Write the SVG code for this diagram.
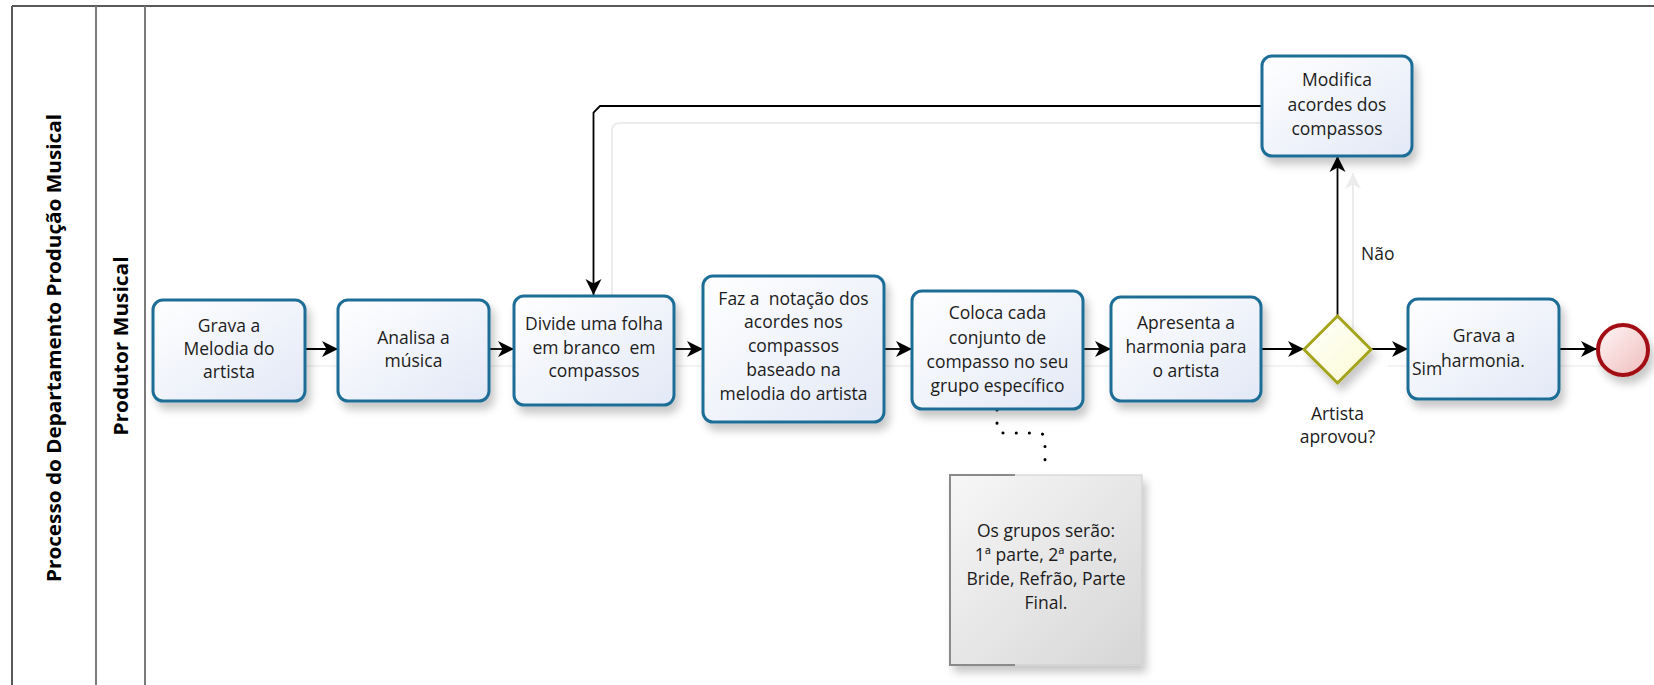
<svg xmlns="http://www.w3.org/2000/svg" width="1654" height="685" viewBox="0 0 1654 685">
<style>
.lane{fill:none;stroke:#7a7a7a;stroke-width:2}
.outer{fill:none;stroke:#5a5a5a;stroke-width:2}
.task{fill:url(#gTask);stroke:#1f6e97;stroke-width:3;filter:url(#sh)}
.t{font-family:"Open Sans","Liberation Sans",sans-serif;font-size:17.5px;fill:#1c1c1c;text-anchor:middle}
.tl{font-family:"Open Sans","Liberation Sans",sans-serif;font-size:17.5px;fill:#1c1c1c}
.hdr{font-family:"Open Sans","Liberation Sans",sans-serif;font-size:20px;font-weight:bold;fill:#000;text-anchor:middle}
.flow{fill:none;stroke:#000;stroke-width:1.8;marker-end:url(#arr)}
.ghost{fill:none;stroke:#ececec;stroke-width:2}
.ghostl{fill:none;stroke:#f3f3f3;stroke-width:2}
.assoc{fill:none;stroke:#000;stroke-width:3;stroke-linecap:round;stroke-dasharray:0.1 13}
</style>
<defs>
<linearGradient id="gTask" x1="0" y1="0" x2="1" y2="1">
<stop offset="0" stop-color="#ffffff"/>
<stop offset="1" stop-color="#e2e8f6"/>
</linearGradient>
<linearGradient id="gGate" x1="0" y1="0" x2="1" y2="1">
<stop offset="0" stop-color="#ffffff"/>
<stop offset="1" stop-color="#fbfbd2"/>
</linearGradient>
<linearGradient id="gEnd" x1="0" y1="0" x2="1" y2="1">
<stop offset="0" stop-color="#fff6f6"/>
<stop offset="1" stop-color="#efbcbc"/>
</linearGradient>
<linearGradient id="gNote" x1="0" y1="0" x2="1" y2="1">
<stop offset="0" stop-color="#f7f7f7"/>
<stop offset="1" stop-color="#d6d6d6"/>
</linearGradient>
<filter id="sh" x="-20%" y="-20%" width="150%" height="160%">
<feDropShadow dx="4" dy="7" stdDeviation="4" flood-color="#000" flood-opacity="0.22"/>
</filter>
<marker id="arr" markerWidth="17" markerHeight="17" refX="16" refY="8.5" orient="auto" markerUnits="userSpaceOnUse">
<path d="M0,0.5 L16,8.5 L0,16.5 L4.5,8.5 z" fill="#000"/>
</marker>
<marker id="arrg" markerWidth="17" markerHeight="17" refX="16" refY="8.5" orient="auto" markerUnits="userSpaceOnUse">
<path d="M0,0.5 L16,8.5 L0,16.5 L4.5,8.5 z" fill="#ececec"/>
</marker>
</defs>
<rect width="1654" height="685" fill="#fff"/>

<g id="pool">
<line class="outer" x1="12" y1="6" x2="1654" y2="6"/>
<line class="outer" x1="12" y1="6" x2="12" y2="685"/>
<line class="lane" x1="96" y1="6" x2="96" y2="685"/>
<line class="lane" x1="145" y1="6" x2="145" y2="685"/>
<text class="hdr" transform="translate(61,348) rotate(-90)" textLength="468" lengthAdjust="spacingAndGlyphs">Processo do Departamento Produção Musical</text>
</g>
<g id="lane">
<text class="hdr" transform="translate(128,346) rotate(-90)" textLength="179" lengthAdjust="spacingAndGlyphs">Produtor Musical</text>
</g>

<g id="connectors">
<g id="ghosts">
<path class="ghost" d="M1262,123 L620,123 Q612,123 612,131 L612,296"/>
<path class="ghost" d="M1353,331 L1353,173" marker-end="url(#arrg)"/>
<line class="ghostl" x1="305" y1="366" x2="338" y2="366"/>
<line class="ghostl" x1="489" y1="366" x2="514" y2="366"/>
<line class="ghostl" x1="674" y1="366" x2="703" y2="366"/>
<line class="ghostl" x1="884" y1="366" x2="912" y2="366"/>
<line class="ghostl" x1="1083" y1="366" x2="1111" y2="366"/>
<line class="ghostl" x1="1261" y1="366" x2="1318" y2="366"/>
<line class="ghostl" x1="1388" y1="366" x2="1408" y2="366"/>
<line class="ghostl" x1="1559" y1="366" x2="1610" y2="366"/>
</g>
<line class="flow" x1="305" y1="349" x2="338" y2="349"/>
<line class="flow" x1="489" y1="349" x2="514" y2="349"/>
<line class="flow" x1="674" y1="349" x2="703" y2="349"/>
<line class="flow" x1="884" y1="349" x2="912" y2="349"/>
<line class="flow" x1="1083" y1="349" x2="1111" y2="349"/>
<line class="flow" x1="1261" y1="349" x2="1304" y2="349"/>
<line class="flow" x1="1371" y1="349" x2="1408" y2="349"/>
<line class="flow" x1="1559" y1="349" x2="1597" y2="349"/>
<line class="flow" x1="1337.5" y1="316" x2="1337.5" y2="156"/>
<path class="flow" d="M1262,106 L600,106 L593.5,112.5 L593.5,295"/>
<path class="assoc" d="M997,410 L997,426 Q997,433 1004,433 L1038,433 Q1045,433 1045,440 L1045,468"/>
</g>

<g id="task-grava-melodia">
<rect class="task" x="153" y="300" width="152" height="101" rx="10"/>
<text class="t" x="229" y="332">Grava a</text>
<text class="t" x="229" y="355">Melodia do</text>
<text class="t" x="229" y="378">artista</text>
</g>
<g id="task-analisa">
<rect class="task" x="338" y="300" width="151" height="101" rx="10"/>
<text class="t" x="413.5" y="344">Analisa a</text>
<text class="t" x="413.5" y="367">música</text>
</g>
<g id="task-divide">
<rect class="task" x="514" y="296" width="160" height="109" rx="10"/>
<text class="t" x="594" y="330">Divide uma folha</text>
<text class="t" x="594" y="354" xml:space="preserve">em branco  em</text>
<text class="t" x="594" y="377">compassos</text>
</g>
<g id="task-faz">
<rect class="task" x="703" y="276" width="181" height="146" rx="10"/>
<text class="t" x="793.5" y="304.5" xml:space="preserve">Faz a  notação dos</text>
<text class="t" x="793.5" y="328">acordes nos</text>
<text class="t" x="793.5" y="352">compassos</text>
<text class="t" x="793.5" y="376">baseado na</text>
<text class="t" x="793.5" y="400">melodia do artista</text>
</g>
<g id="task-coloca">
<rect class="task" x="912" y="291" width="171" height="118" rx="10"/>
<text class="t" x="997.5" y="319">Coloca cada</text>
<text class="t" x="997.5" y="343.5">conjunto de</text>
<text class="t" x="997.5" y="368">compasso no seu</text>
<text class="t" x="997.5" y="392">grupo específico</text>
</g>
<g id="task-apresenta">
<rect class="task" x="1111" y="297" width="150" height="104" rx="10"/>
<text class="t" x="1186" y="329">Apresenta a</text>
<text class="t" x="1186" y="353">harmonia para</text>
<text class="t" x="1186" y="377">o artista</text>
</g>
<g id="gateway-aprovou">
<path d="M1337.5,316 L1371,349.5 L1337.5,383 L1304,349.5 z" fill="url(#gGate)" stroke="#a4a41e" stroke-width="3" filter="url(#sh)"/>
<text class="t" x="1337.5" y="419.5">Artista</text>
<text class="t" x="1337.5" y="442.5">aprovou?</text>
<text class="tl" x="1361" y="260">Não</text>
</g>
<g id="task-modifica">
<rect class="task" x="1262" y="56" width="150" height="100" rx="10"/>
<text class="t" x="1337" y="86">Modifica</text>
<text class="t" x="1337" y="111">acordes dos</text>
<text class="t" x="1337" y="135">compassos</text>
</g>
<g id="task-grava-harmonia">
<rect class="task" x="1408" y="299" width="151" height="100" rx="10"/>
<text class="t" x="1484" y="342">Grava a</text>
<text class="t" x="1483" y="367">harmonia.</text>
<text class="tl" x="1412" y="375">Sim</text>
</g>
<g id="end-event">
<circle cx="1623" cy="350" r="25" fill="url(#gEnd)" stroke="#a30f12" stroke-width="4" filter="url(#sh)"/>
</g>
<g id="annotation">
<rect x="950" y="475" width="192" height="190" fill="url(#gNote)" stroke="#cccccc" stroke-width="1" filter="url(#sh)"/>
<path d="M1015,475 L950,475 L950,665 L1015,665" fill="none" stroke="#8a8a8a" stroke-width="2"/>
<text class="t" x="1046" y="537">Os grupos serão:</text>
<text class="t" x="1046" y="561">1ª parte, 2ª parte,</text>
<text class="t" x="1046" y="585">Bride, Refrão, Parte</text>
<text class="t" x="1046" y="609">Final.</text>
</g>
</svg>
